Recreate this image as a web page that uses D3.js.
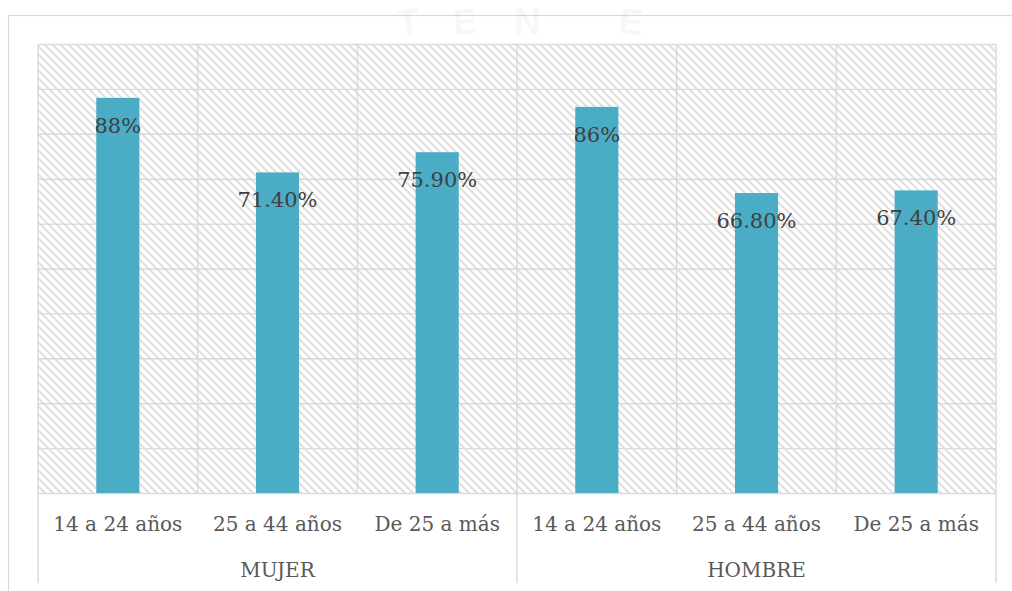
<!DOCTYPE html>
<html lang="es">
<head>
<meta charset="utf-8">
<title>Porcentaje por grupo de edad y sexo</title>
<script src="https://cdn.jsdelivr.net/npm/d3@7"></script>
<style>
  html, body { margin: 0; padding: 0; background: #ffffff; }
  svg { display: block; }
</style>
</head>
<body>
<svg id="chart" width="1012" height="591"></svg>
<script>
// Grupos (sexo) y franjas de edad
const groups = ["MUJER", "HOMBRE"];
const ageBands = ["14 a 24 años", "25 a 44 años", "De 25 a más"];

// Porcentajes por franja de edad
const mujerValues = [88, 71.4, 75.9];
const hombreValues = [86, 66.8, 67.4];

// Marcas del eje de valores (ocultas, solo dibujan la cuadrícula)
const yTicks = [0, 10, 20, 30, 40, 50, 60, 70, 80, 90, 100];

// Letras de la marca de agua del fondo
const watermarkLetters = ["T", "E", "N", "E"];

const rows = [];
groups.forEach((g, gi) => {
  const vals = gi === 0 ? mujerValues : hombreValues;
  ageBands.forEach((a, ai) => rows.push({ group: g, age: a, key: g + "|" + a, value: vals[ai] }));
});

const fmt = p => (p % 1 === 0 ? `${p}%` : `${p.toFixed(2)}%`);

const W = 1012, H = 591;
const plot = { left: 38, right: 996, top: 44, bottom: 493 };
const axisColor = "#d9d9d9";
const textColor = "#595959";

const svg = d3.select("#chart");
const defs = svg.append("defs");

// Trama diagonal del área de trazado
const pat = defs.append("pattern")
  .attr("id", "hatch")
  .attr("patternUnits", "userSpaceOnUse")
  .attr("width", 8).attr("height", 8);
pat.append("rect").attr("width", 8).attr("height", 8).attr("fill", "#ffffff");
pat.append("path")
  .attr("d", "M-2,-2 L10,10 M-2,6 L2,10 M6,-2 L10,2")
  .attr("stroke", "#e0e0e0").attr("stroke-width", 2).attr("fill", "none");

// Marco del gráfico
svg.append("rect")
  .attr("x", 8.5).attr("y", 15.5)
  .attr("width", W + 10).attr("height", H + 10)
  .attr("fill", "none").attr("stroke", axisColor).attr("stroke-width", 1.2);

// Marca de agua: letras sueltas sobre la franja superior
const wmX = [410, 466, 527, 630];
const wmAngles = [-7, -4, 0, 6];
svg.append("g")
  .selectAll("text")
  .data(watermarkLetters)
  .join("text")
  .attr("transform", (d, i) => `translate(${wmX[i]},34) rotate(${wmAngles[i]})`)
  .attr("text-anchor", "middle")
  .attr("font-family", "Liberation Sans, Arial, sans-serif")
  .attr("font-weight", "bold")
  .attr("font-size", 36)
  .attr("fill", "#000000")
  .attr("fill-opacity", 0.05)
  .text(d => d);

// Escalas
const x = d3.scaleBand()
  .domain(rows.map(d => d.key))
  .range([plot.left, plot.right])
  .padding(0);
const xGroup = d3.scaleBand()
  .domain(groups)
  .range([plot.left, plot.right])
  .padding(0);
const y = d3.scaleLinear()
  .domain([0, 100])
  .range([plot.bottom, plot.top]);

const barW = x.bandwidth() * 0.27;

// Fondo con trama
svg.append("rect")
  .attr("x", plot.left).attr("y", plot.top)
  .attr("width", plot.right - plot.left).attr("height", plot.bottom - plot.top)
  .attr("fill", "url(#hatch)");

// Cuadrícula horizontal
const yAxis = d3.axisLeft(y)
  .tickValues(yTicks)
  .tickSize(-(plot.right - plot.left))
  .tickFormat("");
svg.append("g")
  .attr("transform", `translate(${plot.left},0)`)
  .call(yAxis)
  .call(g => g.select(".domain").remove())
  .call(g => g.selectAll(".tick line").attr("stroke", axisColor).attr("stroke-width", 1.4));

// Separadores verticales entre categorías
const innerEdges = rows.slice(1).map(d => x(d.key)).filter(v => !groups.slice(1).some(g => xGroup(g) === v));
svg.append("g").selectAll("line")
  .data(innerEdges)
  .join("line")
  .attr("x1", d => d).attr("x2", d => d)
  .attr("y1", plot.top).attr("y2", plot.bottom)
  .attr("stroke", axisColor).attr("stroke-width", 1.4);

// Separadores de grupo que bajan hasta las etiquetas
const groupEdges = groups.map(g => xGroup(g)).concat([plot.right]);
svg.append("g").selectAll("line")
  .data(groupEdges)
  .join("line")
  .attr("x1", d => d).attr("x2", d => d)
  .attr("y1", plot.top).attr("y2", 583)
  .attr("stroke", axisColor).attr("stroke-width", 1.4);

// Barras
svg.append("g").selectAll("rect")
  .data(rows)
  .join("rect")
  .attr("x", d => x(d.key) + (x.bandwidth() - barW) / 2)
  .attr("y", d => y(d.value))
  .attr("width", barW)
  .attr("height", d => y(0) - y(d.value))
  .attr("fill", "#4bacc6");

// Etiquetas de valor
svg.append("g").selectAll("text")
  .data(rows)
  .join("text")
  .attr("x", d => x(d.key) + x.bandwidth() / 2)
  .attr("y", d => y(d.value) + 35)
  .attr("text-anchor", "middle")
  .attr("font-family", "DejaVu Serif, serif")
  .attr("font-size", 21)
  .attr("fill", "#404040")
  .text(d => fmt(d.value));

// Etiquetas de franja de edad
svg.append("g").selectAll("text")
  .data(rows)
  .join("text")
  .attr("x", d => x(d.key) + x.bandwidth() / 2)
  .attr("y", 531)
  .attr("text-anchor", "middle")
  .attr("font-family", "DejaVu Serif, serif")
  .attr("font-size", 20)
  .attr("fill", textColor)
  .text(d => d.age);

// Etiquetas de grupo
svg.append("g").selectAll("text")
  .data(groups)
  .join("text")
  .attr("x", d => xGroup(d) + xGroup.bandwidth() / 2)
  .attr("y", 577)
  .attr("text-anchor", "middle")
  .attr("font-family", "DejaVu Serif, serif")
  .attr("font-size", 20)
  .attr("fill", textColor)
  .text(d => d);
</script>
</body>
</html>
